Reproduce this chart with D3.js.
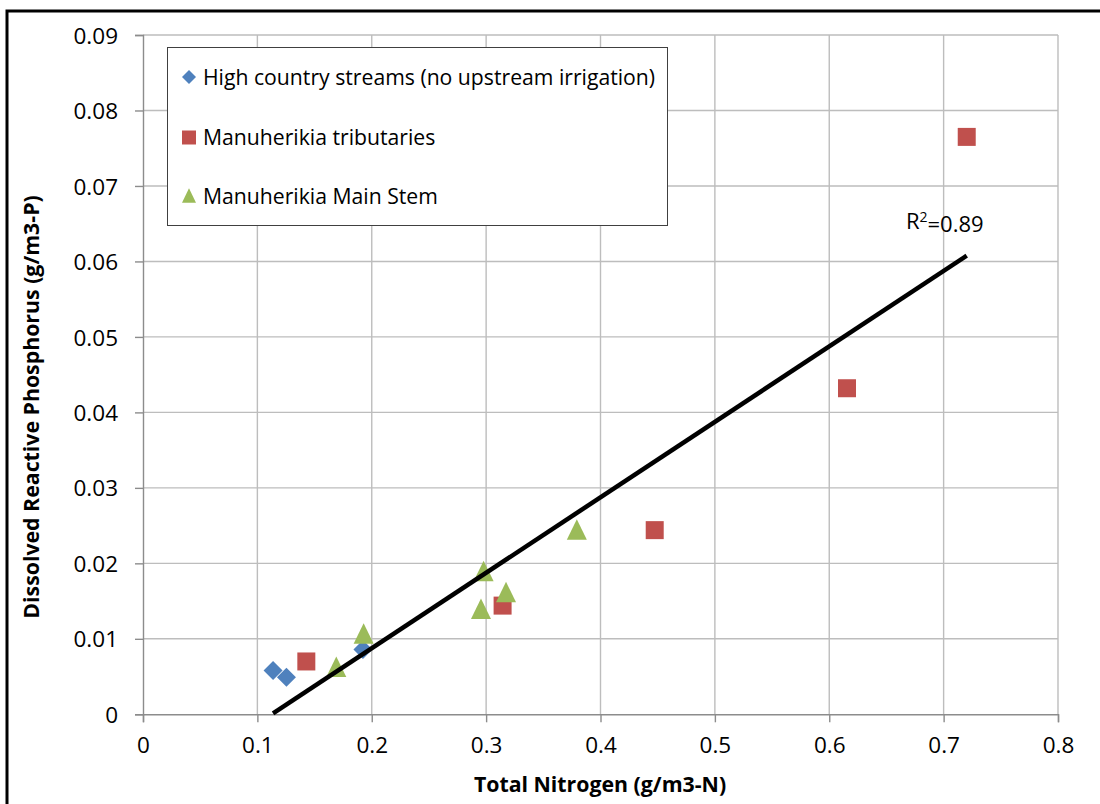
<!DOCTYPE html>
<html>
<head>
<meta charset="utf-8">
<script src="https://cdn.jsdelivr.net/npm/d3@7"></script>
<style>
  body { margin: 0; background: #fff; }
  svg { display: block; font-family: 'Open Sans', sans-serif; }
</style>
</head>
<body>
<div id="chart"></div>
<script>
// --- data ---
const seriesNames = [
  'High country streams (no upstream irrigation)',
  'Manuherikia tributaries',
  'Manuherikia Main Stem'
];
const seriesColors = ['#4f81bd', '#c0504d', '#9bbb59'];
const seriesShapes = ['diamond', 'square', 'triangle'];

const highCountryTN  = [0.1137, 0.1254, 0.1923];
const highCountryDRP = [0.0058, 0.0049, 0.0086];

const tributariesTN  = [0.1428, 0.3144, 0.4474, 0.6155, 0.7202];
const tributariesDRP = [0.0070, 0.0144, 0.0244, 0.0432, 0.0765];

const mainStemTN  = [0.2978, 0.2955, 0.3174, 0.1929, 0.1690, 0.3793];
const mainStemDRP = [0.0189, 0.0139, 0.0161, 0.0106, 0.0062, 0.0244];

const xTicks = [0, 0.1, 0.2, 0.3, 0.4, 0.5, 0.6, 0.7, 0.8];
const yTicks = [0, 0.01, 0.02, 0.03, 0.04, 0.05, 0.06, 0.07, 0.08, 0.09];
const xTitle = 'Total Nitrogen (g/m3-N)';
const yTitle = 'Dissolved Reactive Phosphorus (g/m3-P)';
const r2Label = '0.89';

const series = [
  { tn: highCountryTN, drp: highCountryDRP },
  { tn: tributariesTN, drp: tributariesDRP },
  { tn: mainStemTN, drp: mainStemDRP }
].map((s, i) => ({
  name: seriesNames[i],
  color: seriesColors[i],
  shape: seriesShapes[i],
  points: s.tn.map((v, j) => ({ x: v, y: s.drp[j] }))
}));

// --- dimensions ---
const W = 1100, H = 804;
const plot = { left: 143, right: 1058, top: 35, bottom: 714.3 };

const svg = d3.select('#chart').append('svg')
  .attr('width', W).attr('height', H);

svg.append('rect').attr('width', W).attr('height', H).attr('fill', '#fff');

// outer frame (cut by the picture edge on the right and bottom)
svg.append('rect')
  .attr('x', 7).attr('y', 11)
  .attr('width', W + 50).attr('height', H + 50)
  .attr('fill', 'none').attr('stroke', '#000').attr('stroke-width', 3);

const x = d3.scaleLinear().domain([0, 0.8]).range([plot.left, plot.right]);
const y = d3.scaleLinear().domain([0, 0.09]).range([plot.bottom, plot.top]);

// --- grid ---
const gridColor = '#bdbdbd';
svg.append('g')
  .selectAll('line').data(xTicks.slice(1)).join('line')
  .attr('x1', d => x(d)).attr('x2', d => x(d))
  .attr('y1', plot.top).attr('y2', plot.bottom)
  .attr('stroke', gridColor).attr('stroke-width', 1.4);
svg.append('g')
  .selectAll('line').data(yTicks.slice(1)).join('line')
  .attr('x1', plot.left).attr('x2', plot.right)
  .attr('y1', d => y(d)).attr('y2', d => y(d))
  .attr('stroke', gridColor).attr('stroke-width', 1.4);

// --- axes ---
const xAxis = svg.append('g')
  .attr('transform', `translate(0,${plot.bottom})`)
  .call(d3.axisBottom(x).tickValues(xTicks).tickSize(8).tickPadding(15)
    .tickFormat(d => d3.format('')(d)));
const yAxis = svg.append('g')
  .attr('transform', `translate(${plot.left},0)`)
  .call(d3.axisLeft(y).tickValues(yTicks).tickSize(8).tickPadding(17)
    .tickFormat(d => d === 0 ? '0' : d3.format('.2f')(d)));

[xAxis, yAxis].forEach(ax => {
  ax.select('.domain').attr('stroke', '#8c8c8c').attr('stroke-width', 1.4);
  ax.selectAll('line').attr('stroke', '#8c8c8c').attr('stroke-width', 1.4);
  ax.selectAll('text')
    .style('font-family', "'Open Sans', sans-serif")
    .style('font-size', '22.5px')
    .attr('fill', '#000');
});
yAxis.selectAll('text').attr('dy', '0.36em');

// axis titles
svg.append('text')
  .attr('x', 600).attr('y', 792)
  .attr('text-anchor', 'middle')
  .style('font-size', '21.3px').style('font-weight', 'bold')
  .text(xTitle);
svg.append('text')
  .attr('transform', 'translate(39,407) rotate(-90)')
  .attr('text-anchor', 'middle')
  .style('font-size', '21.3px').style('font-weight', 'bold')
  .text(yTitle);

// --- markers ---
function markerPath(shape, s) {
  const h = s / 2;
  if (shape === 'diamond') return `M0,${-h}L${h},0L0,${h}L${-h},0Z`;
  if (shape === 'square') return `M${-h},${-h}H${h}V${h}H${-h}Z`;
  return `M0,${-h * 1.1}L${h},${h * 0.95}H${-h}Z`;
}
const markerSize = { diamond: 19, square: 18, triangle: 20 };

// --- trend line (least squares over all points) ---
const all = series.flatMap(s => s.points);
const mx = d3.mean(all, d => d.x), my = d3.mean(all, d => d.y);
const slope = d3.sum(all, d => (d.x - mx) * (d.y - my)) / d3.sum(all, d => (d.x - mx) ** 2);
const intercept = my - slope * mx;
const [xMin, xMax] = d3.extent(all, d => d.x);

series.forEach(s => {
  svg.append('g')
    .selectAll('path').data(s.points).join('path')
    .attr('transform', d => `translate(${x(d.x)},${y(d.y)})`)
    .attr('d', markerPath(s.shape, markerSize[s.shape]))
    .attr('fill', s.color);
});

svg.append('path')
  .datum([xMin, xMax])
  .attr('d', d3.line().x(d => x(d)).y(d => y(intercept + slope * d)))
  .attr('fill', 'none').attr('stroke', '#000').attr('stroke-width', 4.5);

const r2 = svg.append('text')
  .attr('x', x(xMax) - 22).attr('y', y(intercept + slope * xMax) - 27)
  .attr('text-anchor', 'middle')
  .style('font-size', '22px');
r2.append('tspan').text('R');
r2.append('tspan').attr('dy', '-0.45em').style('font-size', '14px').text('2');
r2.append('tspan').attr('dy', '0.45em').text('=' + r2Label);

// --- legend ---
const legend = svg.append('g');
legend.append('rect')
  .attr('x', 167.5).attr('y', 47.5).attr('width', 500).attr('height', 178)
  .attr('fill', '#fff').attr('stroke', '#404040').attr('stroke-width', 1);
const rows = legend.selectAll('g.row').data(series).join('g')
  .attr('class', 'row')
  .attr('transform', (d, i) => `translate(189,${[77, 137.5, 196][i]})`);
rows.append('path')
  .attr('d', d => markerPath(d.shape, 14))
  .attr('fill', d => d.color);
rows.append('text')
  .attr('x', 14).attr('dy', '0.36em')
  .style('font-size', '21.2px')
  .text(d => d.name);
</script>
</body>
</html>
